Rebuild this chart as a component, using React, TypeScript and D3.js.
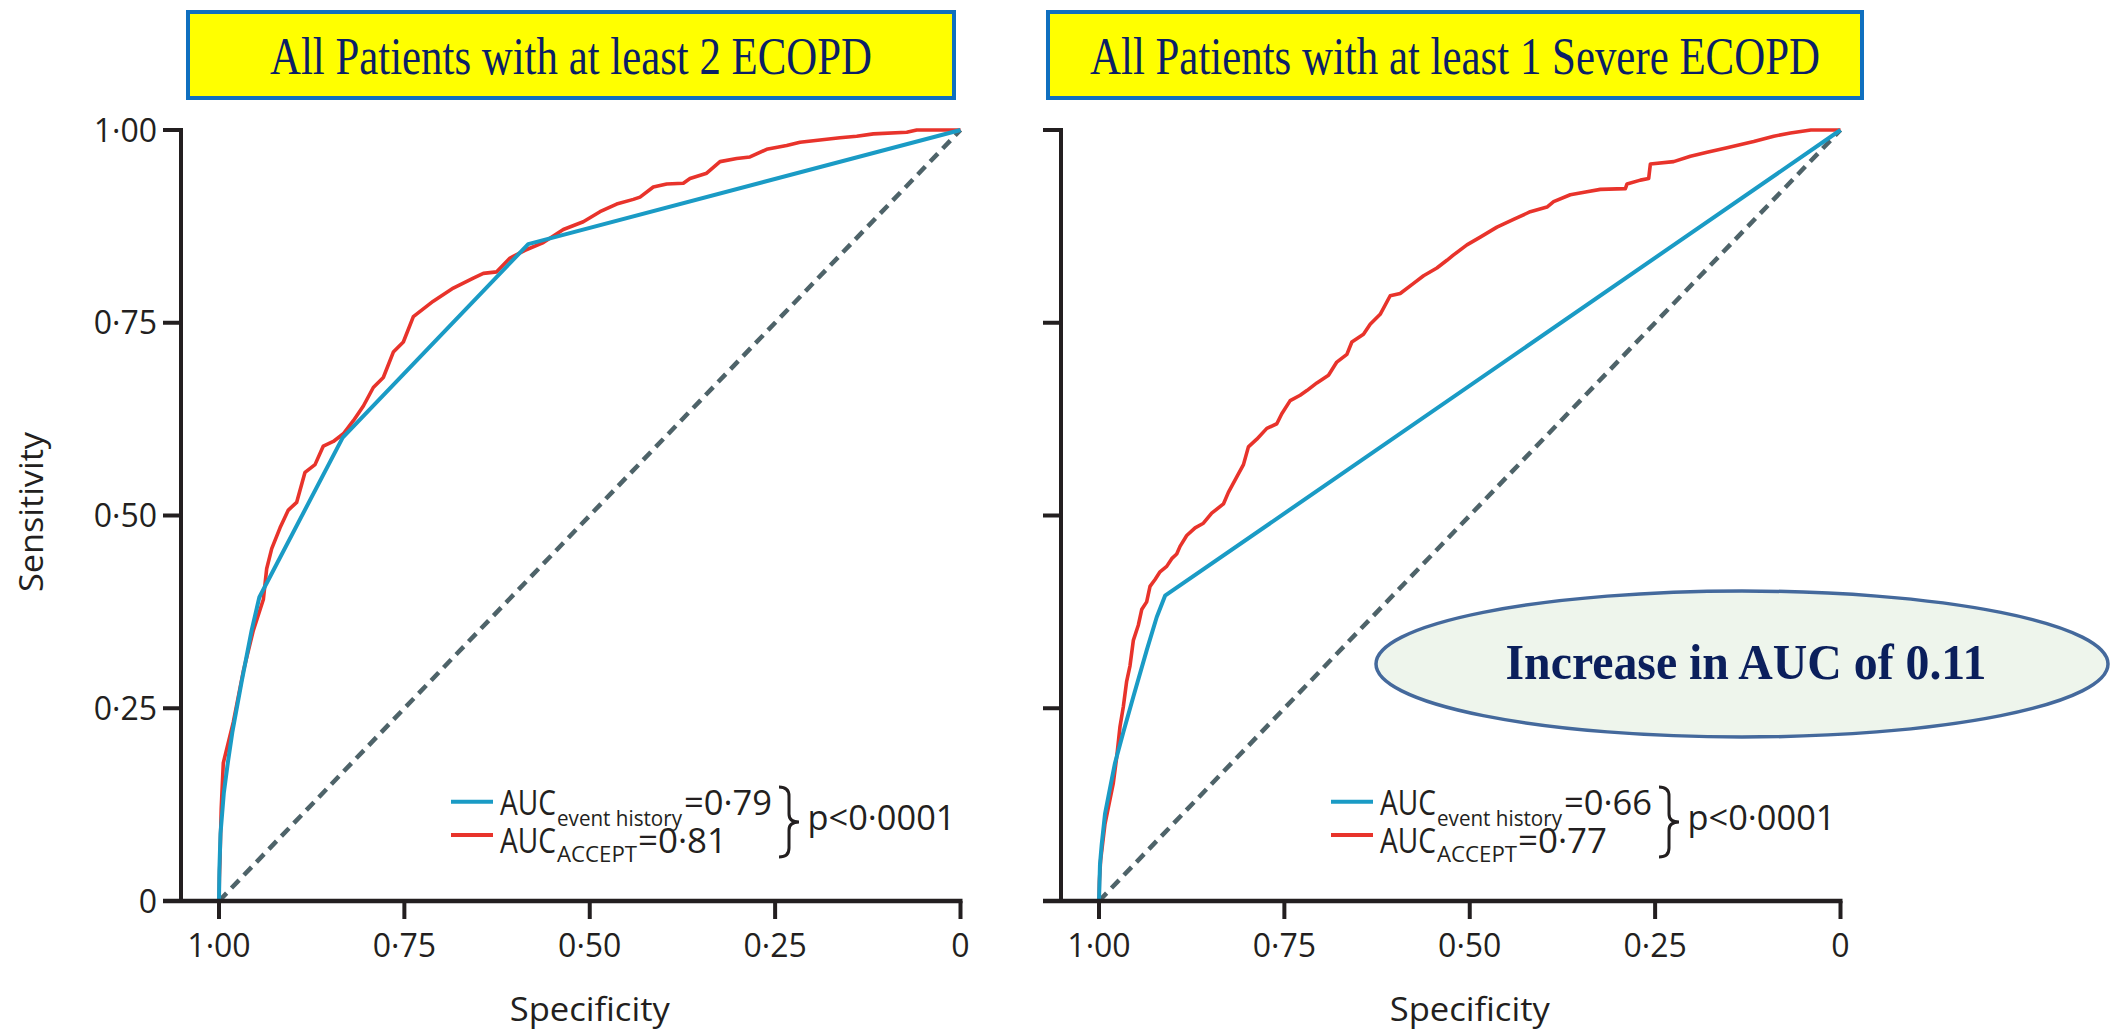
import React from "react";
import * as d3 from "d3";

// ---- Data -------------------------------------------------------------

const panelTitles = [
  "All Patients with at least 2 ECOPD",
  "All Patients with at least 1 Severe ECOPD",
];

const specificityTicks = [1, 0.75, 0.5, 0.25, 0];
const sensitivityTicks = [0, 0.25, 0.5, 0.75, 1];

const aucEventHistory = [0.79, 0.66];
const aucAccept = [0.81, 0.77];
const pValueLabel = "p<0·0001";
const aucIncreaseLabel = "Increase in AUC of 0.11";

// [specificity, sensitivity]
const historyTwoEcopd: [number, number][] = [
  [1, 0], [0.9995, 0.04], [0.998, 0.087], [0.9935, 0.14], [0.988, 0.18],
  [0.982, 0.219], [0.9694, 0.285], [0.956, 0.351], [0.9456, 0.394],
  [0.8332, 0.601], [0.583, 0.852], [0, 1],
];

const acceptTwoEcopd: [number, number][] = [
  [1, 0], [0.9995, 0.03], [0.9987, 0.053], [0.997, 0.12], [0.9942, 0.179],
  [0.9807, 0.232], [0.9672, 0.298], [0.9537, 0.351], [0.9402, 0.391],
  [0.9357, 0.431], [0.9289, 0.457], [0.9177, 0.484], [0.9065, 0.507],
  [0.8953, 0.517], [0.884, 0.556], [0.8705, 0.566], [0.8593, 0.59],
  [0.8458, 0.596], [0.8323, 0.606], [0.8188, 0.623], [0.8053, 0.642],
  [0.7919, 0.666], [0.7784, 0.679], [0.7649, 0.712], [0.7514, 0.725],
  [0.7379, 0.758], [0.711, 0.778], [0.684, 0.795], [0.657, 0.808],
  [0.6435, 0.814], [0.6255, 0.816], [0.6075, 0.834], [0.5873, 0.844],
  [0.5626, 0.854], [0.5356, 0.871], [0.5087, 0.881], [0.4862, 0.894],
  [0.4637, 0.904], [0.4412, 0.91], [0.4322, 0.913], [0.4143, 0.926],
  [0.3962, 0.93], [0.3738, 0.931], [0.3648, 0.937], [0.3423, 0.944],
  [0.3243, 0.959], [0.3018, 0.963], [0.2839, 0.965], [0.2614, 0.975],
  [0.2344, 0.98], [0.2164, 0.984], [0.1895, 0.987], [0.1625, 0.99],
  [0.14, 0.992], [0.1175, 0.995], [0.0725, 0.997], [0.059, 1], [0, 1],
];

const historySevere: [number, number][] = [
  [1, 0], [0.9987, 0.047], [0.9964, 0.073], [0.9919, 0.113], [0.9852, 0.146],
  [0.9784, 0.179], [0.9672, 0.219], [0.9537, 0.265], [0.9357, 0.325],
  [0.9222, 0.368], [0.9109, 0.396], [0, 1],
];

const acceptSevere: [number, number][] = [
  [1, 0], [0.9995, 0.025], [0.9978, 0.053], [0.9919, 0.1], [0.9807, 0.153],
  [0.9762, 0.186], [0.9717, 0.226], [0.9672, 0.252], [0.9627, 0.285],
  [0.9582, 0.305], [0.9537, 0.338], [0.9469, 0.358], [0.9424, 0.378],
  [0.9357, 0.388], [0.9312, 0.408], [0.9244, 0.417], [0.9177, 0.427],
  [0.9087, 0.434], [0.9019, 0.444], [0.8952, 0.45], [0.8907, 0.46],
  [0.8817, 0.474], [0.8704, 0.484], [0.8592, 0.49], [0.848, 0.503],
  [0.8322, 0.515], [0.8255, 0.53], [0.8142, 0.55], [0.8052, 0.566],
  [0.7985, 0.589], [0.7872, 0.599], [0.7737, 0.613], [0.7602, 0.619],
  [0.7535, 0.632], [0.7422, 0.649], [0.7287, 0.656], [0.7197, 0.662],
  [0.7062, 0.672], [0.6905, 0.682], [0.6793, 0.699], [0.6657, 0.709],
  [0.659, 0.725], [0.6433, 0.735], [0.6343, 0.748], [0.6208, 0.761],
  [0.6073, 0.785], [0.5938, 0.788], [0.5758, 0.801], [0.5623, 0.811],
  [0.5443, 0.821], [0.5308, 0.831], [0.5218, 0.838], [0.5038, 0.851],
  [0.4858, 0.861], [0.4633, 0.874], [0.4409, 0.884], [0.4184, 0.894],
  [0.3958, 0.9], [0.3869, 0.907], [0.3644, 0.916], [0.3419, 0.92],
  [0.3239, 0.923], [0.2901, 0.924], [0.2879, 0.93], [0.2699, 0.935],
  [0.2587, 0.937], [0.2564, 0.956], [0.225, 0.959], [0.2024, 0.966],
  [0.1799, 0.971], [0.153, 0.977], [0.117, 0.985], [0.09, 0.992],
  [0.0675, 0.996], [0.04, 1], [0, 1],
];

const chanceLine: [number, number][] = [[1, 0], [0, 1]];

const historySeries = [historyTwoEcopd, historySevere];
const acceptSeries = [acceptTwoEcopd, acceptSevere];

// ---- Styling ------------------------------------------------------------

const W = 2110;
const H = 1033;
const SANS = "'Open Sans', 'Noto Sans', 'DejaVu Sans', sans-serif";
const SERIF = "'Liberation Serif', 'Times New Roman', serif";
const INK = "#231f20";
const BLUE = "#1a9bc5";
const RED = "#e8332b";
const DASH = "#4e6369";

const fmt = (v: number) => (v === 0 ? "0" : v.toFixed(2).replace(".", "·"));

const panelShift = 880;
const plotLeft = 219;
const plotRight = 960.5;
const plotTop = 130;
const plotBottom = 901;
const yAxisX = 181;
const tickLen = 18;

function Panel({ index }: { index: number }) {
  const dx = index * panelShift;
  const x = d3.scaleLinear().domain([1, 0]).range([plotLeft + dx, plotRight + dx]);
  const y = d3.scaleLinear().domain([0, 1]).range([plotBottom, plotTop]);
  const line = d3
    .line<[number, number]>()
    .x((d) => x(d[0]))
    .y((d) => y(d[1]));

  const ax = yAxisX + dx;
  const boxX = index === 0 ? 188 : 1048;
  const boxW = index === 0 ? 766 : 814;
  const titleLen = index === 0 ? 602 : 730;

  const legX = 451 + dx;
  const brL = 779 + dx;

  return (
    <g>
      {/* title box */}
      <rect x={boxX} y={12} width={boxW} height={86} fill="#ffff00" stroke="#0f6fbf" strokeWidth={4} />
      <text
        x={boxX + boxW / 2}
        y={74}
        textAnchor="middle"
        fontFamily={SERIF}
        fontSize={52}
        fill="#0b1f66"
        textLength={titleLen}
        lengthAdjust="spacingAndGlyphs"
      >
        {panelTitles[index]}
      </text>

      {/* curves */}
      <path d={line(chanceLine) || ""} fill="none" stroke={DASH} strokeWidth={4.5} strokeDasharray="11 7" />
      <path d={line(acceptSeries[index]) || ""} fill="none" stroke={RED} strokeWidth={3.6} strokeLinejoin="round" />
      <path d={line(historySeries[index]) || ""} fill="none" stroke={BLUE} strokeWidth={4} strokeLinejoin="round" />

      {/* y axis */}
      <line x1={ax} x2={ax} y1={plotTop - 2} y2={plotBottom} stroke={INK} strokeWidth={4} />
      {sensitivityTicks.map((t) => (
        <g key={"y" + t}>
          <line x1={ax - tickLen} x2={ax} y1={y(t)} y2={y(t)} stroke={INK} strokeWidth={4} />
          {index === 0 && (
            <text
              x={ax - 24}
              y={y(t)}
              dy="0.36em"
              textAnchor="end"
              fontFamily={SANS}
              fontSize={32}
              fill={INK}
            >
              {fmt(t)}
            </text>
          )}
        </g>
      ))}

      {/* x axis */}
      <line x1={ax - tickLen} x2={x(0) + 2} y1={plotBottom} y2={plotBottom} stroke={INK} strokeWidth={4.5} />
      {specificityTicks.map((t) => (
        <g key={"x" + t}>
          <line x1={x(t)} x2={x(t)} y1={plotBottom} y2={plotBottom + tickLen} stroke={INK} strokeWidth={4} />
          <text x={x(t)} y={957} textAnchor="middle" fontFamily={SANS} fontSize={32} fill={INK}>
            {fmt(t)}
          </text>
        </g>
      ))}
      <text
        x={(x(1) + x(0)) / 2}
        y={1021}
        textAnchor="middle"
        fontFamily={SANS}
        fontSize={32}
        fill={INK}
        textLength={160}
        lengthAdjust="spacingAndGlyphs"
      >
        Specificity
      </text>

      {/* legend: two rows with subscripts, set as one text block */}
      <line x1={legX} x2={legX + 42} y1={801.7} y2={801.7} stroke={BLUE} strokeWidth={4} />
      <line x1={legX} x2={legX + 42} y1={835} y2={835} stroke={RED} strokeWidth={4} />
      <text fontFamily={SANS} fill={INK}>
        <tspan x={500 + dx} y={815} fontSize={35} textLength={56} lengthAdjust="spacingAndGlyphs">
          AUC
        </tspan>
        <tspan x={557 + dx} y={826} fontSize={22} textLength={125} lengthAdjust="spacingAndGlyphs">
          event history
        </tspan>
        <tspan x={684 + dx} y={815} fontSize={35} textLength={88} lengthAdjust="spacingAndGlyphs">
          {"=" + fmt(aucEventHistory[index])}
        </tspan>
        <tspan x={500 + dx} y={853} fontSize={35} textLength={56} lengthAdjust="spacingAndGlyphs">
          AUC
        </tspan>
        <tspan x={557 + dx} y={862} fontSize={22} textLength={80} lengthAdjust="spacingAndGlyphs">
          ACCEPT
        </tspan>
        <tspan x={638 + dx} y={853} fontSize={35} textLength={89} lengthAdjust="spacingAndGlyphs">
          {"=" + fmt(aucAccept[index])}
        </tspan>
      </text>
      <path
        d={`M${brL},787 Q${brL + 10},787 ${brL + 10},796 L${brL + 10},814 Q${brL + 10},822 ${brL + 20},822 Q${brL + 10},822 ${brL + 10},830 L${brL + 10},848 Q${brL + 10},857 ${brL},857`}
        fill="none"
        stroke={INK}
        strokeWidth={3}
      />
      <text x={807.5 + dx} y={830} fontFamily={SANS} fontSize={34} fill={INK} textLength={148} lengthAdjust="spacingAndGlyphs">
        {pValueLabel}
      </text>
    </g>
  );
}

export default function App() {
  return (
    <svg
      width={W}
      height={H}
      viewBox={`0 0 ${W} ${H}`}
      style={{ position: "absolute", left: 0, top: 0, background: "#ffffff" }}
    >
      <rect x={0} y={0} width={W} height={H} fill="#ffffff" />
      <text
        transform="translate(43,512) rotate(-90)"
        textAnchor="middle"
        fontFamily={SANS}
        fontSize={32}
        fill={INK}
        textLength={160}
        lengthAdjust="spacingAndGlyphs"
      >
        Sensitivity
      </text>
      <Panel index={0} />
      <Panel index={1} />

      {/* annotation bubble */}
      <ellipse cx={1742} cy={664} rx={366} ry={73} fill="#eef5ec" stroke="#44699c" strokeWidth={3.5} />
      <text
        x={1746}
        y={679}
        textAnchor="middle"
        fontFamily={SERIF}
        fontWeight="bold"
        fontSize={50}
        fill="#0b1f5c"
        textLength={481}
        lengthAdjust="spacingAndGlyphs"
      >
        {aucIncreaseLabel}
      </text>
    </svg>
  );
}
